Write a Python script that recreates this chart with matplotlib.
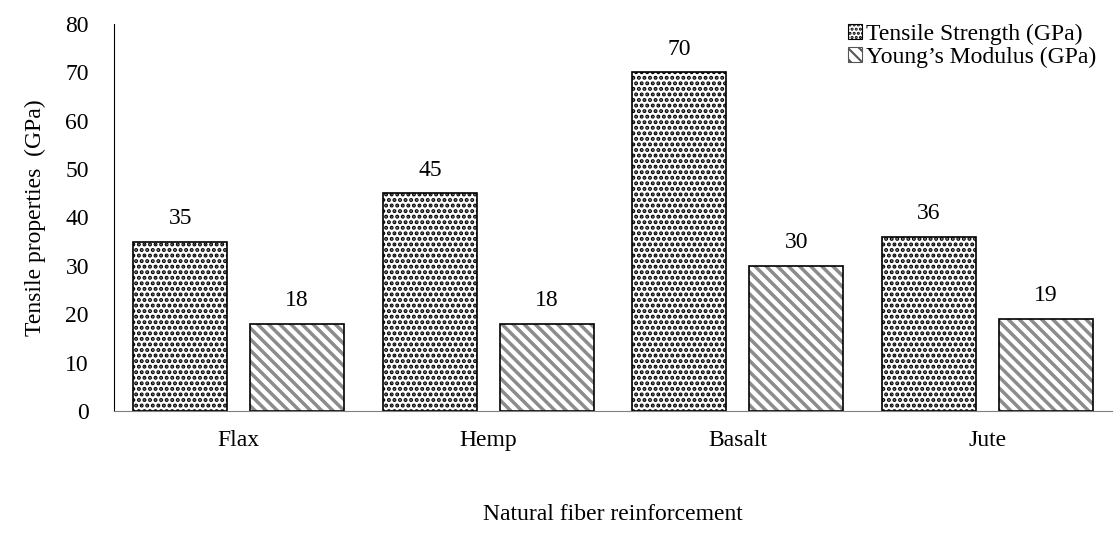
import numpy as np
import matplotlib
matplotlib.use("Agg")
import matplotlib.pyplot as plt
from matplotlib.patches import Patch

plt.rcParams['font.family'] = ['Liberation Serif', 'DejaVu Serif']

fibers = ['Flax', 'Hemp', 'Basalt', 'Jute']
tensile = [35, 45, 70, 36]
modulus = [18, 18, 30, 19]

fig = plt.figure(figsize=(11.14, 5.33), dpi=100)
ax = fig.add_axes([0.1023, 0.229, 0.896, 0.726])

x = np.arange(len(fibers))
w = 0.376
off = 0.234

# tensile: black speckle
with plt.rc_context({'hatch.linewidth': 2.0}):
    ax.bar(x - off, tensile, w, color='white', edgecolor='black', hatch='...', linewidth=0)
# modulus: grey diagonal stripes
with plt.rc_context({'hatch.linewidth': 2.5}):
    ax.bar(x + off, modulus, w, color='white', edgecolor='#8c8c8c', hatch='\\\\\\', linewidth=0)
ax.bar(x - off, tensile, w, color='none', edgecolor='black', linewidth=1.2)
ax.bar(x + off, modulus, w, color='none', edgecolor='black', linewidth=1.2)

for xi, v in zip(x - off, tensile):
    ax.text(xi, v + 2.6, str(v), ha='center', va='bottom', fontsize=17)
for xi, v in zip(x + off, modulus):
    ax.text(xi, v + 2.6, str(v), ha='center', va='bottom', fontsize=17)

ax.set_xlim(-0.5, 3.5)
ax.set_ylim(0, 80)
ax.set_yticks(range(0, 81, 10))
ax.set_xticks(x)
ax.set_xticklabels(fibers)
ax.tick_params(length=0, labelsize=17, pad=14)
ax.tick_params(axis='y', pad=18)
for s in ['top', 'right']:
    ax.spines[s].set_visible(False)
ax.spines['left'].set_color('black')
ax.spines['bottom'].set_color('#7f7f7f')

ax.set_ylabel('Tensile properties  (GPa)', fontsize=17, labelpad=14)
ax.set_xlabel('Natural fiber reinforcement', fontsize=17, labelpad=38)

with plt.rc_context({'hatch.linewidth': 1.5}):
    handles = [Patch(facecolor='white', edgecolor='black', hatch='....', linewidth=0.8),
               Patch(facecolor='white', edgecolor='#555555', hatch='\\\\\\', linewidth=0.8)]
    ax.legend(handles, ['Tensile Strength (GPa)', 'Young\u2019s Modulus (GPa)'],
              loc='upper right', bbox_to_anchor=(1.005, 1.055), frameon=False, fontsize=17,
              handlelength=0.6, handleheight=0.6, handletextpad=0.15, labelspacing=0.05)

fig.savefig('out.png', dpi=100)
